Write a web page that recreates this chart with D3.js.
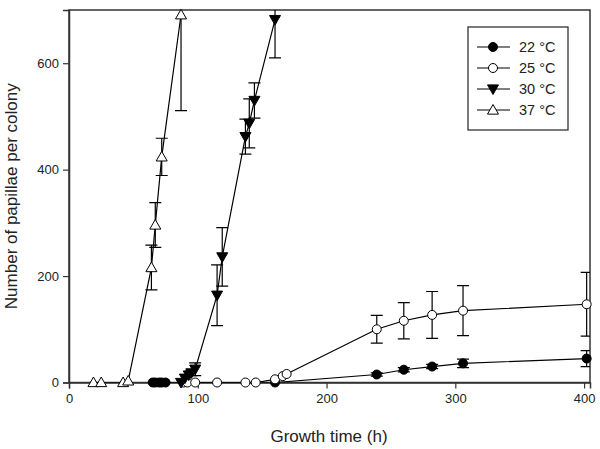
<!DOCTYPE html>
<html>
<head>
<meta charset="utf-8">
<script src="https://cdn.jsdelivr.net/npm/d3@7"></script>
<style>
  html, body { margin: 0; padding: 0; background: #fff; }
  svg text { font-family: Arial, "Liberation Sans", sans-serif; }
</style>
</head>
<body>
<svg id="chart" width="600" height="449"></svg>
<script>
// ---- data ----
const seriesNames = ["22 °C", "25 °C", "30 °C", "37 °C"];
const xTicks = [0, 100, 200, 300, 400];
const yTicks = [0, 200, 400, 600];

const t22 = [65, 67, 70, 72, 75, 160, 239, 260, 282, 306, 402];
const y22 = [0, 0, 0, 0, 0, 0, 15, 24, 30, 36, 45];
const e22 = [0, 0, 0, 0, 0, 0, 3, 4, 4, 8, 15];

const t25 = [89, 92, 98, 115, 137, 145, 160, 166, 169, 239, 260, 282, 306, 402];
const y25 = [0, 0, 0, 0, 0, 0, 6, 12, 16, 100, 116, 127, 135, 147];
const e25 = [0, 0, 0, 0, 0, 0, 0, 0, 0, 26, 34, 44, 47, 60];

const t30 = [87, 90, 93, 95, 98, 115, 119, 137, 140, 144, 160];
const y30 = [0, 8, 14, 18, 25, 164, 236, 462, 487, 530, 682];
const e30 = [0, 0, 0, 5, 12, 57, 55, 33, 46, 33, 72];

const t37 = [19, 25, 42, 46, 64, 67, 72, 87];
const y37 = [0, 0, 0, 3, 216, 296, 424, 691];
const e37 = [0, 0, 0, 0, 42, 42, 35, 180];

const series = [
  { name: seriesNames[0], t: t22, y: y22, e: e22, shape: "circle", fill: "#000" },
  { name: seriesNames[1], t: t25, y: y25, e: e25, shape: "circle", fill: "#fff" },
  { name: seriesNames[2], t: t30, y: y30, e: e30, shape: "down", fill: "#000" },
  { name: seriesNames[3], t: t37, y: y37, e: e37, shape: "up", fill: "#fff" }
];

// ---- layout ----
const L = 69, R = 590, T = 10, B = 382.5;
const svg = d3.select("#chart");
const x = d3.scaleLinear().domain([0, 404.6]).range([L, R]);
const y = d3.scaleLinear().domain([0, 700]).range([B, T]);

svg.append("defs").append("clipPath").attr("id", "clip")
  .append("rect").attr("x", L).attr("y", T).attr("width", R - L).attr("height", B - T);

const axisColor = "#333";

// frame
svg.append("rect").attr("x", L).attr("y", T).attr("width", R - L).attr("height", B - T)
  .attr("fill", "none").attr("stroke", axisColor).attr("stroke-width", 1.5);

// axes
const xAxis = svg.append("g").attr("transform", `translate(0,${B})`)
  .call(d3.axisBottom(x).tickValues(xTicks).tickSize(6).tickPadding(5));
const yAxis = svg.append("g").attr("transform", `translate(${L},0)`)
  .call(d3.axisLeft(y).tickValues(yTicks).tickSize(6).tickPadding(4));
[xAxis, yAxis].forEach(g => {
  g.select(".domain").attr("stroke", axisColor).attr("stroke-width", 1.5);
  g.selectAll(".tick line").attr("stroke", axisColor).attr("stroke-width", 1.2);
  g.selectAll(".tick text").attr("fill", "#222").style("font-size", "13px")
    .style("font-family", "Arial, 'Liberation Sans', sans-serif");
});

// axis titles
svg.append("text").attr("x", 329).attr("y", 442).attr("text-anchor", "middle")
  .attr("fill", "#222").style("font-size", "17px").text("Growth time (h)");
svg.append("text").attr("transform", `translate(17,${(T + B) / 2}) rotate(-90)`)
  .attr("text-anchor", "middle").attr("fill", "#222").style("font-size", "17px")
  .text("Number of papillae per colony");

// markers
function drawMarker(g, shape, fill, cx, cy) {
  if (shape === "circle") {
    g.append("circle").attr("cx", cx).attr("cy", cy).attr("r", 4.5)
      .attr("fill", fill).attr("stroke", "#000").attr("stroke-width", 1);
  } else {
    const s = 5.5;
    const pts = shape === "up"
      ? [[cx, cy - s], [cx + s, cy + s * 0.75], [cx - s, cy + s * 0.75]]
      : [[cx, cy + s], [cx + s, cy - s * 0.75], [cx - s, cy - s * 0.75]];
    g.append("polygon").attr("points", pts.map(p => p.join(",")).join(" "))
      .attr("fill", fill).attr("stroke", "#000").attr("stroke-width", 1);
  }
}

const plot = svg.append("g");
const clipped = plot.append("g").attr("clip-path", "url(#clip)");
const line = d3.line().x(d => x(d[0])).y(d => y(d[1]));

series.forEach(s => {
  const pts = s.t.map((t, i) => [t, s.y[i], s.e[i]]);
  clipped.append("path").attr("d", line(pts)).attr("fill", "none")
    .attr("stroke", "#000").attr("stroke-width", 1.2);
  pts.forEach(p => {
    if (p[2] > 0) {
      const cx = x(p[0]), y1 = y(p[1] + p[2]), y2 = y(p[1] - p[2]);
      clipped.append("line").attr("x1", cx).attr("x2", cx).attr("y1", y1).attr("y2", y2)
        .attr("stroke", "#000").attr("stroke-width", 1.2);
      [y1, y2].forEach(yy => clipped.append("line").attr("x1", cx - 6).attr("x2", cx + 6)
        .attr("y1", yy).attr("y2", yy).attr("stroke", "#000").attr("stroke-width", 1.2));
    }
  });
});
series.forEach(s => {
  s.t.forEach((t, i) => drawMarker(plot, s.shape, s.fill, x(t), y(s.y[i])));
});

// legend
const lg = svg.append("g");
lg.append("rect").attr("x", 468).attr("y", 27).attr("width", 100).attr("height", 103)
  .attr("fill", "#fff").attr("stroke", "#333").attr("stroke-width", 1.3);
series.forEach((s, i) => {
  const cy = 47 + i * 21;
  lg.append("line").attr("x1", 477).attr("x2", 510).attr("y1", cy).attr("y2", cy)
    .attr("stroke", "#000").attr("stroke-width", 1.2);
  drawMarker(lg, s.shape, s.fill, 493, cy);
  lg.append("text").attr("x", 519).attr("y", cy + 5).attr("fill", "#222")
    .style("font-size", "14.5px").text(s.name);
});
</script>
</body>
</html>
